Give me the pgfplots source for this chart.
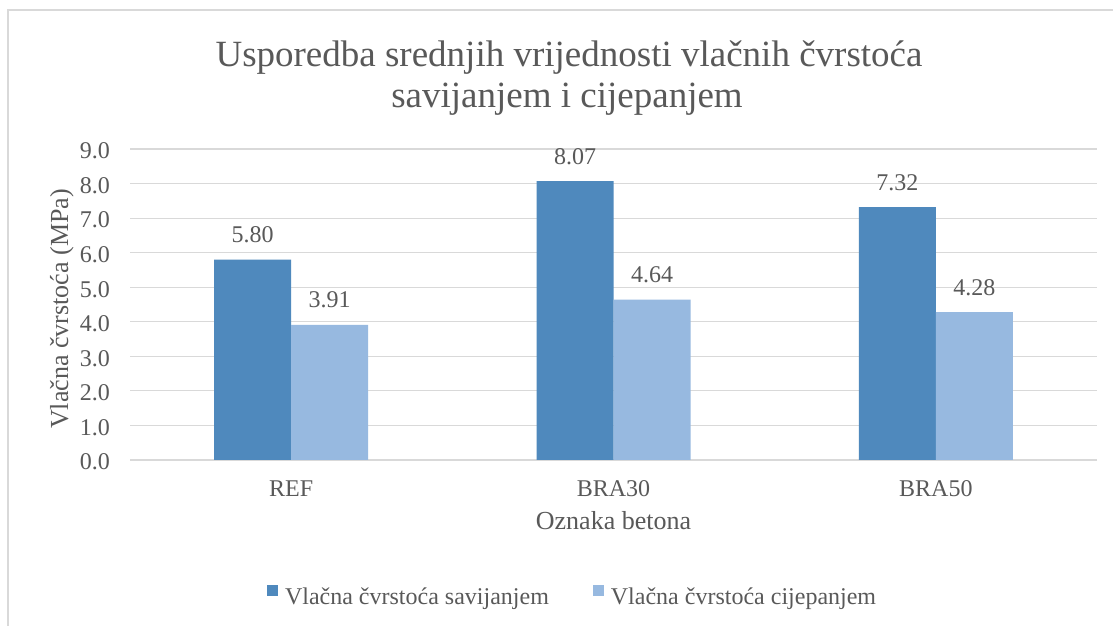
\documentclass[border=0pt]{standalone}
\usepackage{fontspec}
\setmainfont{Liberation Serif}
\usepackage{pgfplots}
\pgfplotsset{compat=1.18}
\definecolor{darkbar}{RGB}{79,137,189}
\definecolor{lightbar}{RGB}{151,185,224}
\definecolor{txt}{RGB}{89,89,89}
\definecolor{gridc}{RGB}{217,217,217}
\newcommand{\mainfs}{\fontsize{24bp}{28bp}\selectfont}
\newcommand{\labfs}{\fontsize{26bp}{30bp}\selectfont}
\begin{document}
\begin{tikzpicture}[x=1bp,y=1bp]
\useasboundingbox (0,0) rectangle (1113,626);
\fill[white] (0,0) rectangle (1113,626);
\draw[gridc, line width=1.2bp] (8,0) -- (8,616) -- (1113,616);
\node[anchor=base, text=txt, font=\fontsize{37bp}{44bp}\selectfont, inner sep=0pt] at (569,559) {Usporedba srednjih vrijednosti vlačnih čvrstoća};
\node[anchor=base, text=txt, font=\fontsize{37bp}{44bp}\selectfont, inner sep=0pt] at (567,518) {savijanjem i cijepanjem};
\begin{axis}[
  at={(130bp,166bp)}, anchor=south west, scale only axis,
  width=967bp, height=311bp,
  xmin=-0.5, xmax=2.5, ymin=0, ymax=9,
  xtick={0,1,2}, xticklabels={REF,BRA30,BRA50},
  ytick={0,1,2,3,4,5,6,7,8,9},
  axis line style={draw=none}, major tick length=0pt,
  ymajorgrids, grid style={gridc, line width=1.2bp},
  ybar=0pt, bar width=77bp,
  /pgf/number format/assume math mode=true,
  tick label style={font=\mainfs, text=txt, inner sep=0pt},
  yticklabel style={anchor=east, xshift=-20bp, yshift=-2bp, /pgf/number format/fixed, /pgf/number format/fixed zerofill, /pgf/number format/precision=1},
  xticklabel style={anchor=base, yshift=-37bp},
  nodes near coords={\pgfmathprintnumber[fixed,fixed zerofill,precision=2]{\pgfplotspointmeta}},
  every node near coord/.append style={anchor=base, inner sep=0pt, yshift=17bp, font=\mainfs, text=txt},
  xlabel={Oznaka betona},
  xlabel style={at={(axis description cs:0.5,0)}, anchor=base, yshift=-70bp, inner sep=0pt, font=\labfs, text=txt},
  ylabel={Vlačna čvrstoća (MPa)},
  ylabel style={at={(axis description cs:-0.0641,0.4855)}, anchor=base, inner sep=0pt, font=\labfs, text=txt},
  legend columns=2,
  legend cell align=left,
  legend style={at={(axis description cs:0.1417,-0.4032)}, anchor=north west, draw=none, fill=none, inner sep=0pt, outer sep=0pt, font=\mainfs, text=txt, nodes={inner sep=0pt},
    /tikz/every odd column/.append style={column sep=7bp},
    /tikz/every even column/.append style={column sep=44bp}},
]
\addplot[fill=darkbar, draw=none, legend image code/.code={\fill[darkbar] (0bp,1bp) rectangle (11bp,12bp);}]
  coordinates {(0,5.80) (1,8.07) (2,7.32)};
\addplot[fill=lightbar, draw=none, legend image code/.code={\fill[lightbar] (0bp,1bp) rectangle (11bp,12bp);}]
  coordinates {(0,3.91) (1,4.64) (2,4.28)};
\legend{Vlačna čvrstoća savijanjem, Vlačna čvrstoća cijepanjem}
\end{axis}
\end{tikzpicture}
\end{document}
